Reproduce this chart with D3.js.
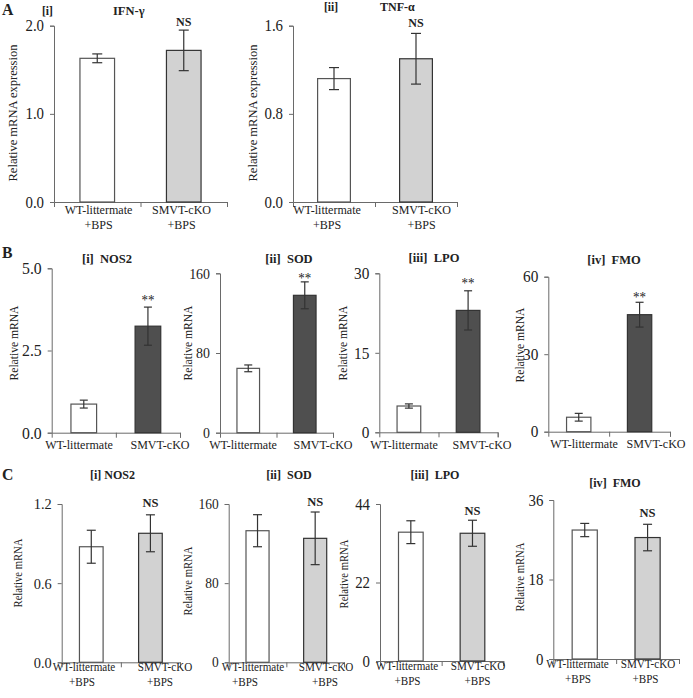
<!DOCTYPE html>
<html><head><meta charset="utf-8">
<script src="https://cdn.jsdelivr.net/npm/d3@7"></script>
<style>body{margin:0;background:#fff}svg{display:block}svg text{font-family:"Liberation Serif","Times New Roman","Tinos","Nimbus Roman","Nimbus Roman No9 L","FreeSerif",Times,serif;fill:#222}</style>
</head><body><svg id="c" width="693" height="698"></svg>
<script>
// ---------- data ----------
const groupsBPS = [["WT-littermate","+BPS"],["SMVT-cKO","+BPS"]];
const groupsPlain = [["WT-littermate"],["SMVT-cKO"]];

const ifnMean = [1.63, 1.72], ifnErr = [0.05, 0.23];
const tnfMean = [1.12, 1.30], tnfErr = [0.10, 0.23];
const ticksIFN = [0, 1.0, 2.0], tickLabIFN = ["0.0","1.0","2.0"];
const ticksTNF = [0, 0.8, 1.6], tickLabTNF = ["0.0","0.8","1.6"];

const nos2BMean = [0.87, 3.24], nos2BErr = [0.12, 0.58];
const sodBMean = [64.6, 137.9], sodBErr = [3.4, 13.5];
const lpoBMean = [4.96, 23.0], lpoBErr = [0.4, 3.7];
const fmoBMean = [5.6, 45.3], fmoBErr = [1.5, 4.8];
const ticksNOS2B = [0, 2.5, 5.0], tickLabNOS2B = ["0.0","2.5","5.0"];
const ticksSODB = [0, 80, 160], tickLabSODB = ["0","80","160"];
const ticksLPOB = [0, 15, 30], tickLabLPOB = ["0","15","30"];
const ticksFMOB = [0, 30, 60], tickLabFMOB = ["0","30","60"];

const nos2CMean = [0.876, 0.978], nos2CErr = [0.125, 0.14];
const sodCMean = [133, 125.3], sodCErr = [16.2, 26.6];
const lpoCMean = [36.1, 35.8], lpoCErr = [3.2, 3.65];
const fmoCMean = [29.2, 27.5], fmoCErr = [1.5, 3.0];
const ticksNOS2C = [0, 0.6, 1.2], tickLabNOS2C = ["0.0","0.6","1.2"];
const ticksSODC = [0, 80, 160], tickLabSODC = ["0","80","160"];
const ticksLPOC = [0, 22, 44], tickLabLPOC = ["0","22","44"];
const ticksFMOC = [0, 18, 36], tickLabFMOC = ["0","18","36"];

const colWhite = "#ffffff", colGray = "#d2d2d2", colDark = "#4f4f4f";

// ---------- drawing ----------
const svg = d3.select("#c");

// horizontal condensation so that text widths match a Times-metric font
const probe = svg.append("text").style("font-size","100px").text("WT-littermate");
const pw = probe.node().getComputedTextLength();
probe.remove();
const FS = pw > 0 ? Math.min(1, 522 / pw) : 1;

function txt(parent, x, y, s, size, opt){
  opt = opt || {};
  const rot = opt.rotate ? ` rotate(${opt.rotate})` : "";
  return parent.append("text")
    .attr("transform", `translate(${x},${y})${rot} scale(${FS},1)`)
    .attr("text-anchor", opt.anchor || "start")
    .style("font-size", size+"px")
    .style("font-weight", opt.bold ? "bold" : "normal")
    .attr("fill", opt.fill || "#222")
    .text(s);
}

function panel(o){
  const g = svg.append("g");
  const x = d3.scaleBand().domain([0,1]).range([o.x0, o.x1]).paddingInner(o.pad).paddingOuter(o.pad/2);
  const y = d3.scaleLinear().domain([0, o.ticks[o.ticks.length-1]]).range([o.yb, o.yt]);
  const ya = d3.axisLeft(y).tickValues(o.ticks).tickFormat((d,i)=>o.tickLab[i]).tickSizeOuter(0).tickSize(4).tickPadding(6);
  const yg = g.append("g").attr("transform",`translate(${o.x0},0)`).call(ya);
  yg.attr("font-family",null);
  yg.select(".domain").attr("stroke","#6a6a6a");
  yg.selectAll(".tick line").attr("stroke","#6a6a6a");
  yg.selectAll("text").style("font-size",o.tfs+"px").attr("fill","#222")
    .each(function(){ const t=d3.select(this); t.attr("x", (+t.attr("x"))/FS).attr("transform",`scale(${FS},1)`); });
  const xs = d3.scaleLinear().domain([0,2]).range([o.x0,o.x1]);
  const xa = d3.axisBottom(xs).tickValues([1,2]).tickFormat("").tickSizeOuter(0).tickSize(5);
  const xg = g.append("g").attr("transform",`translate(0,${o.yb})`).call(xa);
  xg.select(".domain").attr("stroke","#6a6a6a");
  xg.selectAll(".tick line").attr("stroke","#6a6a6a");
  g.selectAll("rect.bar").data(o.mean).join("rect")
    .attr("x",(d,i)=>x(i)).attr("width",x.bandwidth())
    .attr("y",d=>y(d)).attr("height",d=>o.yb-y(d))
    .attr("fill",(d,i)=>o.fills[i]).attr("stroke",(d,i)=>i===0?"#555":"#333").attr("stroke-width",1.2);
  const eb = g.selectAll("g.eb").data(o.mean).join("g");
  const cx = i => x(i)+x.bandwidth()/2;
  eb.append("line").attr("x1",(d,i)=>cx(i)).attr("x2",(d,i)=>cx(i))
    .attr("y1",(d,i)=>y(d+o.err[i])).attr("y2",(d,i)=>y(d-o.err[i])).attr("stroke","#333").attr("stroke-width",1.2);
  [1,-1].forEach(s=>{
    eb.append("line").attr("x1",(d,i)=>cx(i)-o.cap).attr("x2",(d,i)=>cx(i)+o.cap)
      .attr("y1",(d,i)=>y(d+s*o.err[i])).attr("y2",(d,i)=>y(d+s*o.err[i])).attr("stroke","#333").attr("stroke-width",1.2);
  });
  if (o.sig) txt(g, cx(1), y(o.mean[1]+o.err[1])-o.sigGap, o.sig, o.sig==="NS"?o.sigFs:o.sigFs+1,
    {anchor:"middle", bold:o.sig==="NS", fill:o.sig==="NS"?"#222":"#555"});
  o.groups.forEach((lines,i)=>{
    lines.forEach((t,k)=>{
      const lx = o.labX ? o.labX[k][i] : cx(i);
      txt(g, lx, o.yb+o.xlab0+k*o.xlabGap, t, o.xfs, {anchor:"middle"});
    });
  });
  txt(g, o.ylx, o.yly, o.ylabel, o.yfs, {anchor:"middle", rotate:-90});
  o.titles.forEach(t=>{
    txt(g, t.x, t.y, t.text, t.fs, {anchor:t.anchor||"start", bold:true});
  });
}

[["A",2,15],["B",2,258],["C",2,480]].forEach(([t,xx,yy])=>{
  txt(svg, xx, yy, t, 17, {bold:true});
});

const baseA = {groups:groupsBPS, pad:0.6, tfs:16, xfs:13, yfs:13.5, xlab0:11.5, xlabGap:15, cap:5, sigFs:13, ylabel:"Relative mRNA expression"};
panel(Object.assign({}, baseA, {x0:54,x1:227,yt:25.7,yb:202,ticks:ticksIFN,tickLab:tickLabIFN,mean:ifnMean,err:ifnErr,
  fills:[colWhite,colGray],sig:"NS",sigGap:4.5,ylx:17,yly:113,
  labX:[[98.5,181.5],[98.5,181.5]],
  titles:[{text:"[i]",x:42,y:15,fs:12.5},{text:"IFN-γ",x:113,y:15,fs:13.5}]}));
panel(Object.assign({}, baseA, {x0:293,x1:457,yt:25.7,yb:202,ticks:ticksTNF,tickLab:tickLabTNF,mean:tnfMean,err:tnfErr,
  fills:[colWhite,colGray],sig:"NS",sigGap:6,ylx:257,yly:113,
  labX:[[327,421.5],[327,421.5]],
  titles:[{text:"[ii]",x:324,y:11,fs:12.5},{text:"TNF-α",x:380,y:11,fs:13}]}));

const baseB = {groups:groupsPlain, pad:0.6, xfs:13, yfs:12.5, xlab0:16.5, xlabGap:15, cap:4, sigFs:13, ylabel:"Relative mRNA", fills:[colWhite,colDark], sig:"**"};
panel(Object.assign({}, baseB, {x0:51.7,x1:180,yt:268.3,yb:432.7,ticks:ticksNOS2B,tickLab:tickLabNOS2B,mean:nos2BMean,err:nos2BErr,
  tfs:17,sigGap:2,ylx:18,yly:343, labX:[[79,160]], titles:[{text:"[i]\u00a0\u00a0NOS2",x:107,y:263,fs:13.5,anchor:"middle"}]}));
panel(Object.assign({}, baseB, {x0:220,x1:333,yt:273.3,yb:432.7,ticks:ticksSODB,tickLab:tickLabSODB,mean:sodBMean,err:sodBErr,
  tfs:15,sigGap:-1,ylx:192,yly:343, labX:[[243,323]], titles:[{text:"[ii]\u00a0\u00a0SOD",x:289,y:263,fs:13.5,anchor:"middle"}]}));
panel(Object.assign({}, baseB, {x0:379.3,x1:497.7,yt:273.3,yb:432.3,ticks:ticksLPOB,tickLab:tickLabLPOB,mean:lpoBMean,err:lpoBErr,
  tfs:16.5,sigGap:3,ylx:347,yly:343, labX:[[404,482]], titles:[{text:"[iii]\u00a0\u00a0LPO",x:434,y:262,fs:13.5,anchor:"middle"}]}));
panel(Object.assign({}, baseB, {x0:548.3,x1:670,yt:276.7,yb:431.7,ticks:ticksFMOB,tickLab:tickLabFMOB,mean:fmoBMean,err:fmoBErr,
  tfs:16.5,sigGap:0,ylx:524,yly:345, labX:[[584,656]], titles:[{text:"[iv]\u00a0\u00a0FMO",x:614,y:264,fs:13.5,anchor:"middle"}]}));

const baseC = {groups:groupsBPS, pad:0.6, xfs:12, yfs:11.5, xlab0:9, xlabGap:15, cap:4.5, sigFs:13.5, ylabel:"Relative mRNA", fills:[colWhite,colGray], sig:"NS"};
panel(Object.assign({}, baseC, {x0:61.7,x1:180,yt:504,yb:662.3,ticks:ticksNOS2C,tickLab:tickLabNOS2C,mean:nos2CMean,err:nos2CErr,
  tfs:15.5,sigGap:8,ylx:22,yly:573, labX:[[84,165],[82,160]], titles:[{text:"[i] NOS2",x:112.5,y:479,fs:13,anchor:"middle"}]}));
panel(Object.assign({}, baseC, {x0:228.7,x1:344,yt:504,yb:662.3,ticks:ticksSODC,tickLab:tickLabSODC,mean:sodCMean,err:sodCErr,
  tfs:14.5,sigGap:6,ylx:192,yly:581, labX:[[253,326],[245,325]], titles:[{text:"[ii]\u00a0\u00a0SOD",x:289,y:479,fs:13,anchor:"middle"}]}));
panel(Object.assign({}, baseC, {x0:380,x1:503.3,yt:504,yb:661,ticks:ticksLPOC,tickLab:tickLabLPOC,mean:lpoCMean,err:lpoCErr,
  tfs:16,sigGap:5.5,ylx:348,yly:574, labX:[[407,478],[407.5,477.5]], titles:[{text:"[iii]\u00a0\u00a0LPO",x:435,y:479,fs:13,anchor:"middle"}]}));
panel(Object.assign({}, baseC, {x0:553.3,x1:679,yt:500,yb:659,ticks:ticksFMOC,tickLab:tickLabFMOC,mean:fmoCMean,err:fmoCErr,
  tfs:16,sigGap:7,ylx:524,yly:577, labX:[[577.5,648],[578,645.5]], titles:[{text:"[iv]\u00a0\u00a0FMO",x:615,y:487,fs:13,anchor:"middle"}]}));
</script></body></html>
